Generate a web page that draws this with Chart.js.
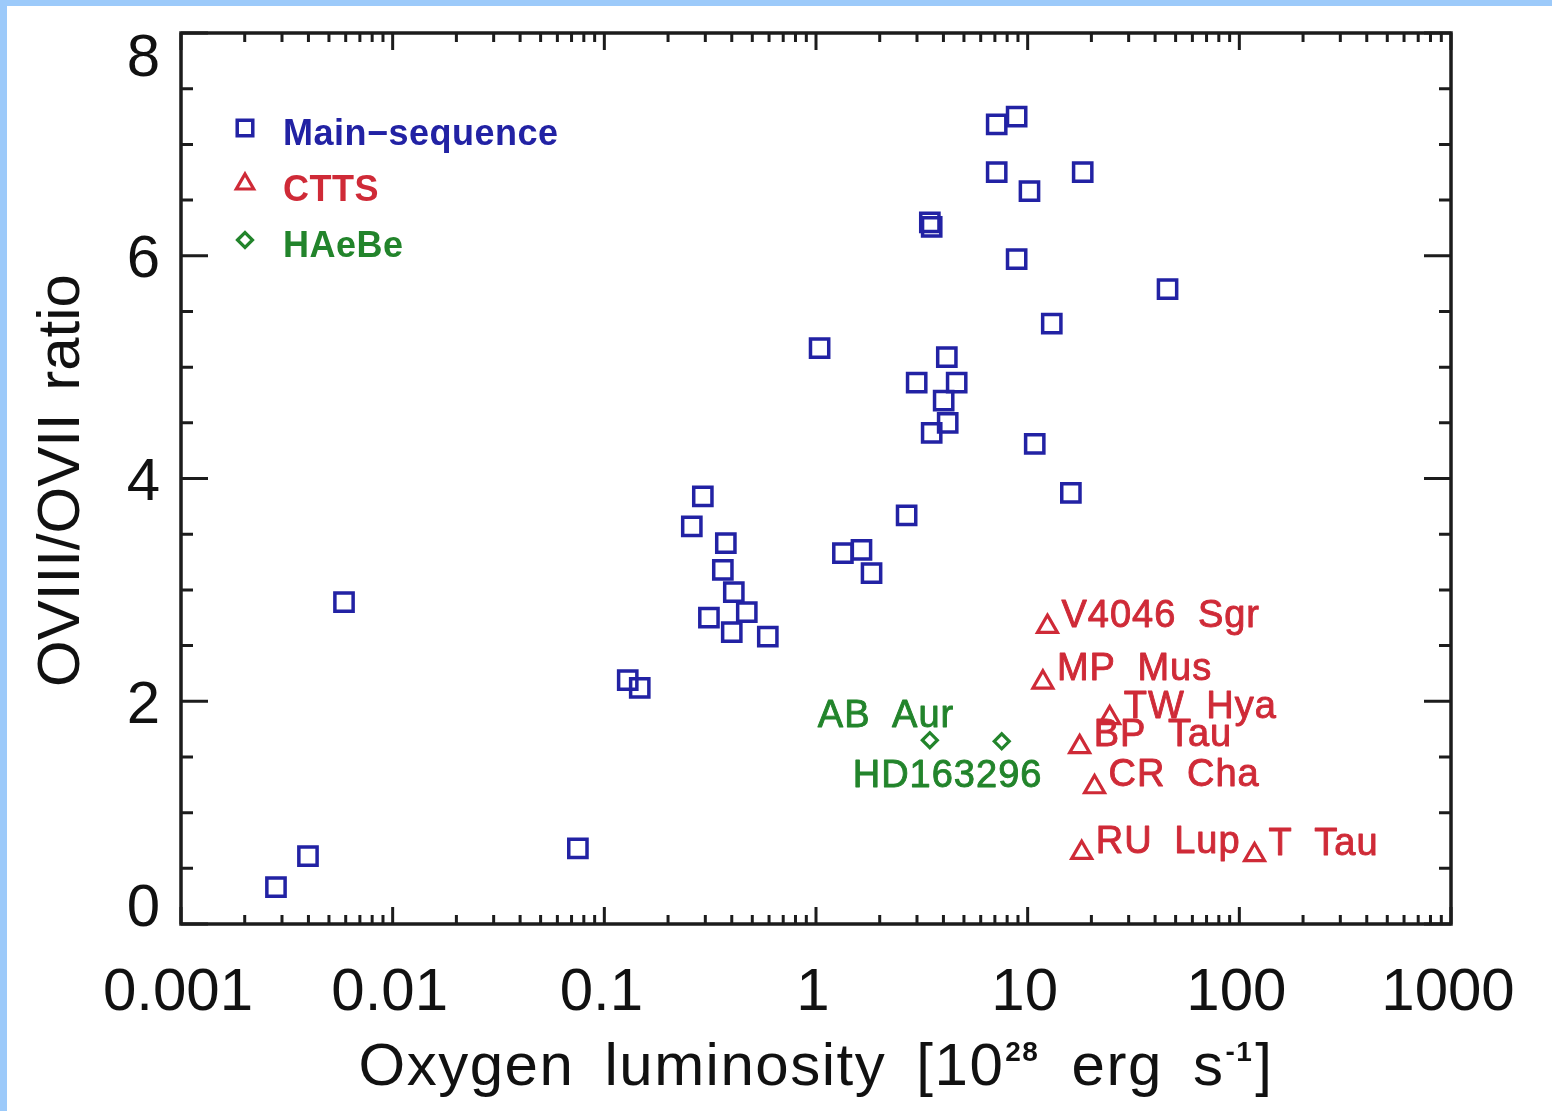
<!DOCTYPE html>
<html>
<head>
<meta charset="utf-8">
<title>OVIII/OVII ratio vs oxygen luminosity</title>
<script src="https://cdn.jsdelivr.net/npm/chart.js@4/dist/chart.umd.min.js"></script>
<style>
  html, body { margin: 0; padding: 0; background: #ffffff; }
  #wrap { position: relative; width: 1552px; height: 1111px; }
  canvas { display: block; }
</style>
</head>
<body>
<div id="wrap"><canvas id="chart" width="1552" height="1111"></canvas></div>
<script>
// Main-sequence stars: oxygen luminosity [1e28 erg/s] and OVIII/OVII ratio
const msLum = [0.00281, 0.00398, 0.00589, 0.0750, 0.129, 0.147, 0.292, 0.259, 0.375, 0.363,
               0.409, 0.471, 0.312, 0.400, 0.592, 1.04, 1.34, 1.64, 1.83, 2.68,
               2.99, 4.15, 4.62, 4.01, 4.19, 3.52, 3.45, 3.52, 7.14, 8.87,
               7.14, 18.2, 10.2, 8.87, 45.8, 13.0, 10.8, 16.0];
const msRatio = [0.33, 0.61, 2.89, 0.68, 2.19, 2.12, 3.84, 3.57, 3.42, 3.18,
                 2.98, 2.80, 2.75, 2.62, 2.58, 5.17, 3.33, 3.36, 3.15, 3.67,
                 4.86, 5.09, 4.86, 4.70, 4.50, 4.41, 6.30, 6.26, 7.18, 7.25,
                 6.75, 6.75, 6.58, 5.97, 5.70, 5.39, 4.31, 3.87];

// Classical T Tauri stars
const cttsNames = ['V4046 Sgr', 'MP Mus', 'TW Hya', 'BP Tau', 'CR Cha', 'RU Lup', 'T Tau'];
const cttsLum = [12.4, 11.8, 24.4, 17.6, 20.7, 18.0, 118];
const cttsRatio = [2.67, 2.17, 1.85, 1.59, 1.23, 0.64, 0.62];

// Herbig Ae/Be stars
const haebeNames = ['AB Aur', 'HD163296'];
const haebeLum = [3.45, 7.54];
const haebeRatio = [1.65, 1.64];

// Axis ticks
const xTickValues = [0.001, 0.01, 0.1, 1, 10, 100, 1000];
const xTickLabels = ['0.001', '0.01', '0.1', '1', '10', '100', '1000'];
const yTickValues = [0, 2, 4, 6, 8];
const yTickLabels = ['0', '2', '4', '6', '8'];

const BLUE = '#2222a4';
const RED = '#cf2a37';
const GREEN = '#22842b';
const AXIS = '#1c1c1c';
const FONT = '"Liberation Sans", Arial, Helvetica, sans-serif';

const toPoints = (xs, ys) => xs.map((x, i) => ({ x: x, y: ys[i] }));

// Draw left-aligned text with a wider gap between words; returns the advance width.
function gapText(ctx, text, x, y, gap, draw, stroke) {
  const words = text.split(' ');
  const sp = ctx.measureText(' ').width + gap;
  let cx = x;
  words.forEach((w, i) => {
    if (draw) {
      if (stroke) ctx.strokeText(w, cx, y);
      ctx.fillText(w, cx, y);
    }
    cx += ctx.measureText(w).width;
    if (i < words.length - 1) cx += sp;
  });
  return cx - x;
}

function drawMarker(ctx, style, x, y, r, color, lw) {
  ctx.save();
  ctx.strokeStyle = color;
  ctx.lineWidth = lw;
  ctx.lineJoin = 'miter';
  ctx.beginPath();
  if (style === 'rect') {
    const s = Math.SQRT1_2 * r;
    ctx.rect(x - s, y - s, 2 * s, 2 * s);
  } else if (style === 'triangle') {
    ctx.moveTo(x, y - r);
    ctx.lineTo(x + r * Math.sin(2 * Math.PI / 3), y + r / 2);
    ctx.lineTo(x - r * Math.sin(2 * Math.PI / 3), y + r / 2);
    ctx.closePath();
  } else {
    ctx.moveTo(x - r, y);
    ctx.lineTo(x, y - r);
    ctx.lineTo(x + r, y);
    ctx.lineTo(x, y + r);
    ctx.closePath();
  }
  ctx.stroke();
  ctx.restore();
}

const decor = {
  id: 'decor',
  beforeDraw(chart) {
    const ctx = chart.ctx;
    ctx.save();
    ctx.fillStyle = '#ffffff';
    ctx.fillRect(0, 0, chart.width, chart.height);
    ctx.fillStyle = '#9ccafa';
    ctx.fillRect(0, 0, chart.width, 6);
    ctx.fillRect(0, 0, 7, chart.height);
    ctx.restore();
  },
  afterDatasetsDraw(chart, args, opts) {
    const ctx = chart.ctx;
    const a = chart.chartArea;
    const xs = chart.scales.x;
    const ys = chart.scales.y;

    ctx.save();
    // Plot frame
    ctx.strokeStyle = AXIS;
    ctx.lineWidth = 3.5;
    ctx.strokeRect(a.left, a.top, a.right - a.left, a.bottom - a.top);

    // Ticks on all four sides, pointing inward
    ctx.lineWidth = 3;
    ctx.lineCap = 'butt';
    const vTick = (px, len) => {
      ctx.beginPath();
      ctx.moveTo(px, a.bottom); ctx.lineTo(px, a.bottom - len);
      ctx.moveTo(px, a.top); ctx.lineTo(px, a.top + len);
      ctx.stroke();
    };
    const hTick = (py, len) => {
      ctx.beginPath();
      ctx.moveTo(a.left, py); ctx.lineTo(a.left + len, py);
      ctx.moveTo(a.right, py); ctx.lineTo(a.right - len, py);
      ctx.stroke();
    };
    xTickValues.forEach(v => vTick(xs.getPixelForValue(v), 17));
    for (let d = 0; d < xTickValues.length - 1; d++) {
      for (let k = 2; k <= 9; k++) vTick(xs.getPixelForValue(xTickValues[d] * k), 9);
    }
    yTickValues.forEach(v => hTick(ys.getPixelForValue(v), 27));
    for (let v = ys.min + 0.5; v < ys.max; v += 0.5) {
      if (!yTickValues.includes(v)) hTick(ys.getPixelForValue(v), 12);
    }

    // Tick labels
    ctx.fillStyle = '#111111';
    ctx.font = '60px ' + FONT;
    ctx.textAlign = 'center';
    ctx.textBaseline = 'alphabetic';
    xTickValues.forEach((v, i) => {
      ctx.fillText(xTickLabels[i], xs.getPixelForValue(v) - 3, a.bottom + 86);
    });
    ctx.textAlign = 'right';
    yTickValues.forEach((v, i) => {
      let cy = ys.getPixelForValue(v);
      cy = Math.min(Math.max(cy, a.top + 21), a.bottom - 20);
      ctx.fillText(yTickLabels[i], a.left - 21, cy + 21.5);
    });

    // Y axis title
    ctx.save();
    ctx.translate(79, (a.top + a.bottom) / 2 + 2);
    ctx.rotate(-Math.PI / 2);
    ctx.textAlign = 'left';
    ctx.font = '60px ' + FONT;
    const yTitle = 'OVIII/OVII ratio';
    const yW = gapText(ctx, yTitle, 0, 0, 6, false);
    gapText(ctx, yTitle, -yW / 2, 0, 6, true);
    ctx.restore();

    // X axis title with superscripts
    const segs = [
      { t: 'Oxygen luminosity [10', sup: false },
      { t: '28', sup: true },
      { t: ' erg s', sup: false },
      { t: '-1', sup: true },
      { t: ']', sup: false }
    ];
    const mainFont = '60px ' + FONT;
    const supFont = 'bold 28px ' + FONT;
    const gap = 12;
    ctx.textAlign = 'left';
    ctx.letterSpacing = '1.5px';
    let total = 0;
    segs.forEach(s => {
      ctx.font = s.sup ? supFont : mainFont;
      total += gapText(ctx, s.t, 0, 0, gap, false) + (s.sup ? 3 : 0);
    });
    let cx = (a.left + a.right) / 2 - total / 2;
    const base = 1085;
    segs.forEach(s => {
      ctx.font = s.sup ? supFont : mainFont;
      cx += gapText(ctx, s.t, cx + (s.sup ? 1 : 0), s.sup ? base - 24 : base, gap, true) + (s.sup ? 3 : 0);
    });

    // Star name labels
    ctx.font = '38px ' + FONT;
    ctx.letterSpacing = '1px';
    ctx.lineWidth = 0.9;
    ctx.lineJoin = 'round';
    ctx.textAlign = 'left';
    opts.labels.forEach(spec => {
      const meta = chart.getDatasetMeta(spec.dataset);
      const col = chart.data.datasets[spec.dataset].borderColor;
      ctx.fillStyle = col;
      ctx.strokeStyle = col;
      spec.names.forEach((name, j) => {
        const el = meta.data[j];
        const off = spec.offsets[j];
        gapText(ctx, name, el.x + off[0], el.y + off[1], 10, true, true);
      });
    });

    // Legend inside the plot
    ctx.font = 'bold 36px ' + FONT;
    ctx.letterSpacing = '0.5px';
    chart.data.datasets.forEach((ds, i) => {
      const y = opts.legend.top + i * opts.legend.step;
      drawMarker(ctx, ds.pointStyle, opts.legend.symbolX, y, opts.legend.radius[i], ds.borderColor, ds.borderWidth);
      ctx.fillStyle = ds.borderColor;
      ctx.fillText(ds.label, opts.legend.textX, y + 17);
    });
    ctx.restore();
  }
};

const chart = new Chart(document.getElementById('chart'), {
  type: 'scatter',
  data: {
    datasets: [
      {
        label: 'Main\u2212sequence',
        data: toPoints(msLum, msRatio),
        pointStyle: 'rect',
        pointRadius: 12.9,
        borderWidth: 3.5,
        borderColor: BLUE,
        backgroundColor: 'rgba(0,0,0,0)'
      },
      {
        label: 'CTTS',
        data: toPoints(cttsLum, cttsRatio),
        pointStyle: 'triangle',
        pointRadius: 11.5,
        borderWidth: 3.2,
        borderColor: RED,
        backgroundColor: 'rgba(0,0,0,0)'
      },
      {
        label: 'HAeBe',
        data: toPoints(haebeLum, haebeRatio),
        pointStyle: 'rectRot',
        pointRadius: 7.5,
        borderWidth: 3.2,
        borderColor: GREEN,
        backgroundColor: 'rgba(0,0,0,0)'
      }
    ]
  },
  options: {
    responsive: false,
    animation: false,
    devicePixelRatio: 1,
    events: [],
    layout: { padding: { left: 0, top: 33, right: 101, bottom: 0 } },
    scales: {
      x: {
        type: 'logarithmic',
        min: 0.001,
        max: 1000,
        grid: { display: false },
        border: { display: false },
        ticks: { display: false },
        afterFit(scale) { scale.height = 187; }
      },
      y: {
        type: 'linear',
        min: 0,
        max: 8,
        grid: { display: false },
        border: { display: false },
        ticks: { display: false },
        afterFit(scale) { scale.width = 181; }
      }
    },
    plugins: {
      legend: { display: false },
      tooltip: { enabled: false },
      decor: {
        legend: { symbolX: 245, textX: 283, top: 128, step: 56, radius: [11, 10, 7.5] },
        labels: [
          { dataset: 1, names: cttsNames,
            offsets: [[14, 0], [14, -2], [14, 0], [14, -1], [14, -1], [14, 0], [14, 0]] },
          { dataset: 2, names: haebeNames,
            offsets: [[-112, -13], [-149, 46]] }
        ]
      }
    }
  },
  plugins: [decor]
});
</script>
</body>
</html>
